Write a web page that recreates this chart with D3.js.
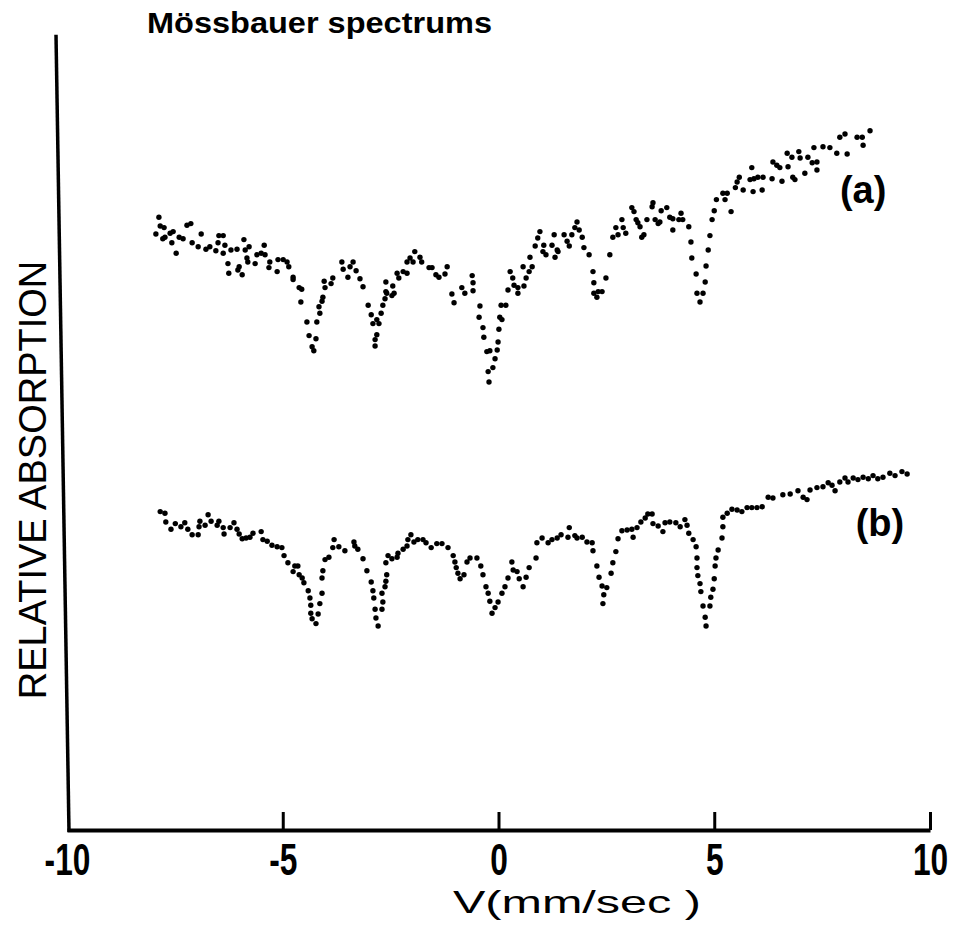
<!DOCTYPE html>
<html>
<head>
<meta charset="utf-8">
<script src="https://cdn.jsdelivr.net/npm/d3@7"></script>
<style>
    body { margin: 0; background: white; }
</style>
</head>
<body>
<script>

// Spectrum (a): [velocity mm/s, relative absorption]
const spectrumA = [
    [-7.94,74.5],[-7.87,76.6],[-7.84,75.5],[-7.78,73.9],[-7.75,75.3],[-7.73,74.1],[-7.61,74.6],[-7.57,73.4],
    [-7.54,74.8],[-7.47,72.1],[-7.40,74.1],[-7.31,73.9],[-7.22,75.6],[-7.13,75.8],[-7.10,73.4],[-6.96,72.9],
    [-6.89,74.5],[-6.78,72.6],[-6.69,72.9],[-6.55,72.4],[-6.50,73.4],[-6.48,74.3],[-6.38,74.3],[-6.38,72.1],
    [-6.34,73.1],[-6.27,70.8],[-6.25,69.6],[-6.20,72.5],[-6.06,72.6],[-6.04,70.0],[-6.01,70.4],[-5.94,69.4],
    [-5.90,73.8],[-5.87,72.5],[-5.83,71.5],[-5.81,71.0],[-5.78,72.9],[-5.64,70.8],[-5.60,71.9],[-5.50,72.1],
    [-5.43,73.1],[-5.41,71.9],[-5.32,70.3],[-5.30,71.0],[-5.13,69.8],[-5.11,71.3],[-4.99,71.3],[-4.90,71.0],
    [-4.86,70.4],[-4.76,69.1],[-4.76,68.8],[-4.62,67.8],[-4.58,66.0],[-4.56,67.6],[-4.44,63.5],[-4.39,61.8],
    [-4.32,60.4],[-4.28,59.9],[-4.23,61.4],[-4.21,63.5],[-4.16,65.4],[-4.14,64.6],[-4.09,66.1],[-4.07,66.6],
    [-4.04,68.6],[-4.02,67.8],[-3.88,68.3],[-3.84,69.0],[-3.63,71.0],[-3.60,70.1],[-3.49,69.1],[-3.44,70.4],
    [-3.37,71.0],[-3.30,69.9],[-3.21,68.9],[-3.14,67.9],[-3.02,65.6],[-2.95,64.4],[-2.91,63.3],[-2.86,61.3],
    [-2.86,60.5],[-2.82,63.8],[-2.82,61.9],[-2.77,63.3],[-2.72,64.6],[-2.68,65.6],[-2.63,66.4],[-2.61,68.5],
    [-2.61,67.3],[-2.59,67.1],[-2.47,66.8],[-2.45,68.0],[-2.42,67.1],[-2.35,69.6],[-2.31,69.0],[-2.21,69.8],
    [-2.12,69.6],[-2.12,71.0],[-2.05,71.5],[-1.98,71.0],[-1.94,72.3],[-1.82,71.6],[-1.78,71.0],[-1.61,70.3],
    [-1.54,70.3],[-1.45,69.4],[-1.38,69.1],[-1.24,69.5],[-1.19,70.4],[-1.08,67.0],[-1.03,65.9],[-0.85,67.8],
    [-0.78,67.1],[-0.61,69.3],[-0.59,68.4],[-0.59,67.4],[-0.45,64.1],[-0.43,65.5],[-0.36,62.8],[-0.34,61.6],
    [-0.27,59.8],[-0.24,57.3],[-0.22,56.0],[-0.20,59.9],[-0.13,57.8],[-0.08,58.9],[-0.03,60.0],[-0.01,61.0],
    [0.01,62.6],[0.03,64.1],[0.06,65.6],[0.08,63.8],[0.17,65.6],[0.22,67.5],[0.27,69.8],[0.33,69.0],
    [0.36,68.1],[0.45,67.8],[0.45,67.1],[0.57,70.4],[0.59,68.0],[0.64,69.0],[0.71,69.8],[0.73,71.6],
    [0.78,70.4],[0.85,73.0],[0.91,74.0],[0.96,74.8],[1.03,72.3],[1.05,73.1],[1.10,71.9],[1.24,73.1],
    [1.29,74.4],[1.31,71.6],[1.36,72.5],[1.38,72.3],[1.52,74.4],[1.59,73.6],[1.64,73.0],[1.70,74.4],
    [1.77,75.3],[1.82,76.0],[1.87,75.0],[1.94,74.1],[1.98,72.8],[2.10,71.9],[2.19,69.8],[2.21,68.4],
    [2.21,67.1],[2.28,66.6],[2.31,67.3],[2.40,67.3],[2.49,69.0],[2.58,71.9],[2.65,74.1],[2.72,75.3],
    [2.77,74.4],[2.86,76.3],[2.89,75.3],[2.95,74.6],[3.09,77.8],[3.14,77.3],[3.19,76.3],[3.23,75.9],
    [3.28,75.4],[3.32,74.1],[3.37,74.4],[3.44,76.3],[3.56,77.9],[3.58,78.4],[3.63,76.3],[3.70,75.8],
    [3.74,76.0],[3.77,77.4],[3.90,77.8],[3.97,76.6],[4.04,76.4],[4.04,75.0],[4.18,76.3],[4.23,77.1],
    [4.27,76.3],[4.41,75.4],[4.46,73.5],[4.48,71.5],[4.58,69.5],[4.60,67.1],[4.67,66.0],[4.74,67.1],
    [4.79,68.5],[4.81,70.5],[4.86,72.5],[4.90,74.3],[4.95,76.3],[5.00,77.4],[5.05,78.8],[5.20,79.6],
    [5.25,78.8],[5.30,79.6],[5.39,77.3],[5.49,80.3],[5.53,81.0],[5.58,81.6],[5.67,80.0],[5.83,81.3],
    [5.87,82.8],[5.90,79.8],[5.92,81.4],[6.01,81.6],[6.11,80.0],[6.13,81.6],[6.34,81.4],[6.36,83.5],
    [6.45,83.1],[6.52,82.8],[6.57,81.1],[6.69,84.6],[6.71,82.9],[6.80,84.1],[6.82,81.6],[6.87,81.3],
    [6.96,84.8],[6.99,84.0],[7.10,82.1],[7.17,84.1],[7.27,83.4],[7.31,85.3],[7.38,83.5],[7.38,82.5],
    [7.52,85.4],[7.68,85.3],[7.84,84.6],[7.91,86.6],[8.03,87.0],[8.08,84.5],[8.31,86.6],[8.43,86.6],
    [8.45,85.6],[8.61,87.4]
];

// Spectrum (b): [velocity mm/s, relative absorption]
const spectrumB = [
    [-7.84,39.8],[-7.73,39.6],[-7.71,38.5],[-7.59,37.6],[-7.49,38.3],[-7.36,37.9],[-7.27,38.4],[-7.20,37.6],
    [-7.10,36.9],[-6.96,36.9],[-6.94,37.9],[-6.92,38.6],[-6.80,38.1],[-6.73,39.4],[-6.66,38.6],[-6.52,38.1],
    [-6.48,38.6],[-6.38,37.8],[-6.36,37.0],[-6.22,37.8],[-6.13,38.4],[-6.06,37.6],[-6.01,37.0],[-5.94,36.4],
    [-5.85,36.5],[-5.76,36.6],[-5.69,37.1],[-5.50,37.3],[-5.46,36.3],[-5.36,36.1],[-5.25,35.6],[-5.13,35.4],
    [-5.02,35.3],[-4.97,34.3],[-4.88,33.4],[-4.76,32.3],[-4.72,33.0],[-4.65,33.0],[-4.62,31.9],[-4.55,31.5],
    [-4.51,30.9],[-4.41,29.9],[-4.37,29.0],[-4.35,28.1],[-4.35,27.1],[-4.32,26.4],[-4.23,25.8],[-4.18,27.0],
    [-4.14,28.3],[-4.09,29.6],[-4.09,31.5],[-4.07,32.4],[-4.02,33.8],[-3.93,34.1],[-3.84,35.3],[-3.81,36.3],
    [-3.70,35.4],[-3.56,34.9],[-3.35,36.0],[-3.33,35.5],[-3.26,35.1],[-3.14,33.9],[-3.05,32.4],[-2.95,31.0],
    [-2.91,29.9],[-2.89,29.0],[-2.86,27.6],[-2.84,26.5],[-2.79,25.5],[-2.70,27.6],[-2.68,28.5],[-2.70,29.6],
    [-2.63,30.4],[-2.61,31.1],[-2.59,31.9],[-2.61,33.4],[-2.56,34.3],[-2.47,33.9],[-2.35,34.1],[-2.33,34.6],
    [-2.21,35.1],[-2.12,35.5],[-2.10,36.3],[-2.03,36.9],[-1.96,36.0],[-1.87,36.3],[-1.75,36.3],[-1.68,35.9],
    [-1.56,35.3],[-1.43,35.8],[-1.31,35.8],[-1.17,35.3],[-1.05,34.3],[-1.01,33.5],[-0.98,32.8],[-0.94,32.1],
    [-0.89,31.4],[-0.80,31.9],[-0.73,33.5],[-0.66,34.0],[-0.50,34.0],[-0.41,33.0],[-0.36,31.9],[-0.29,30.4],
    [-0.24,29.6],[-0.20,28.6],[-0.15,27.1],[-0.08,27.8],[-0.01,28.5],[0.08,29.6],[0.15,30.4],[0.22,31.5],
    [0.31,33.5],[0.34,32.5],[0.43,32.3],[0.48,31.4],[0.57,30.4],[0.64,31.6],[0.71,32.8],[0.87,34.0],
    [0.89,35.9],[1.01,36.5],[1.15,35.9],[1.24,36.3],[1.36,36.5],[1.45,36.9],[1.61,36.6],[1.64,37.8],
    [1.77,36.8],[1.82,36.5],[1.94,36.6],[2.05,36.0],[2.17,35.9],[2.19,34.9],[2.28,33.0],[2.33,31.6],
    [2.40,30.5],[2.44,29.4],[2.42,28.3],[2.51,30.3],[2.61,32.1],[2.65,33.4],[2.72,34.8],[2.77,36.4],
    [2.86,37.4],[2.98,37.5],[3.09,37.6],[3.12,36.6],[3.21,37.8],[3.30,38.5],[3.40,39.0],[3.46,39.5],
    [3.56,39.5],[3.58,38.3],[3.70,38.0],[3.81,37.3],[3.86,38.4],[3.97,38.5],[4.11,38.4],[4.21,37.9],
    [4.32,38.8],[4.37,38.1],[4.41,37.1],[4.51,36.3],[4.58,35.4],[4.60,34.0],[4.60,32.8],[4.62,31.8],
    [4.67,30.8],[4.69,29.8],[4.74,28.0],[4.79,26.6],[4.81,25.5],[4.90,28.0],[4.92,29.1],[4.97,30.1],
    [5.00,31.4],[5.02,33.0],[5.04,34.0],[5.09,35.0],[5.18,36.5],[5.20,37.9],[5.20,39.1],[5.30,39.6],
    [5.41,40.1],[5.53,40.0],[5.64,39.8],[5.76,40.3],[5.87,40.3],[5.99,40.3],[6.11,40.4],[6.25,41.6],
    [6.36,41.5],[6.59,41.9],[6.76,42.0],[6.94,42.4],[7.06,41.6],[7.15,41.3],[7.22,42.5],[7.38,42.8],
    [7.52,42.9],[7.64,43.4],[7.73,43.1],[7.80,42.4],[7.91,43.5],[8.03,44.0],[8.10,43.5],[8.22,44.0],
    [8.33,43.8],[8.45,44.1],[8.57,43.9],[8.68,44.3],[8.79,43.9],[8.91,44.1],[9.07,44.6],[9.19,44.3],
    [9.35,44.8],[9.47,44.5]
];

const xTicks = [-10, -5, 0, 5, 10];
const titleText = "Mössbauer spectrums";
const xLabel = "V(mm/sec )";
const yLabel = "RELATIVE ABSORPTION";
const seriesLabels = [
    {text: "(a)", v: 8.45, r: 78.4},
    {text: "(b)", v: 8.84, r: 36.8}
];

// Create SVG
const width = 957, height = 930;
const svg = d3.select('body')
    .append('svg')
    .attr('width', width)
    .attr('height', height);

// Scales
const x = d3.scaleLinear().domain([-10, 10]).range([67, 930]);
const y = d3.scaleLinear().domain([0, 100]).range([830, 30]);

const sans = "'Liberation Sans', Arial, sans-serif";

// X axis with ticks pointing up
const xAxis = svg.append('g')
    .attr('transform', `translate(0,${y(0)})`)
    .call(d3.axisBottom(x)
        .tickValues(xTicks)
        .tickSizeInner(-18)
        .tickSizeOuter(0)
        .tickPadding(45)
        .tickFormat(d3.format('d')));

xAxis.select('.domain')
    .attr('stroke', 'black')
    .attr('stroke-width', 4);

xAxis.selectAll('.tick line')
    .attr('stroke', 'black')
    .attr('stroke-width', 3)
    .filter(d => d === -10)
    .remove();

// Condensed tick labels, squeezed horizontally
xAxis.selectAll('.tick text')
    .attr('fill', 'black')
    .attr('font-family', sans)
    .attr('font-weight', 'bold')
    .attr('font-size', 44)
    .attr('dy', 0)
    .attr('transform', 'scale(0.72,1)')
    .text(d => d < 0 ? '-' + Math.abs(d) : d);

// Y axis (no ticks), slightly skewed like the scan
svg.append('line')
    .attr('x1', x(-10) + 2)
    .attr('y1', y(0) + 2)
    .attr('x2', x(-10) - 11)
    .attr('y2', y(99.4))
    .attr('stroke', 'black')
    .attr('stroke-width', 3.5);

// Data points
const series = [spectrumA, spectrumB];
svg.append('g')
    .selectAll('g')
    .data(series)
    .join('g')
    .selectAll('circle')
    .data(d => d)
    .join('circle')
    .attr('cx', d => x(d[0]))
    .attr('cy', d => y(d[1]))
    .attr('r', 2.7)
    .attr('fill', 'black');

// Series labels
svg.selectAll('.series-label')
    .data(seriesLabels)
    .join('text')
    .attr('class', 'series-label')
    .attr('x', d => x(d.v))
    .attr('y', d => y(d.r))
    .attr('text-anchor', 'middle')
    .attr('font-family', sans)
    .attr('font-weight', 'bold')
    .attr('font-size', 38)
    .text(d => d.text);

// Title
svg.append('text')
    .attr('x', 147)
    .attr('y', 33)
    .attr('font-family', sans)
    .attr('font-weight', 'bold')
    .attr('font-size', 30)
    .attr('textLength', 345)
    .attr('lengthAdjust', 'spacingAndGlyphs')
    .text(titleText);

// X label
svg.append('text')
    .attr('x', 577)
    .attr('y', 913)
    .attr('text-anchor', 'middle')
    .attr('font-family', sans)
    .attr('font-size', 32)
    .attr('textLength', 248)
    .attr('lengthAdjust', 'spacingAndGlyphs')
    .text(xLabel);

// Y label
svg.append('text')
    .attr('transform', `translate(46,480) rotate(-90)`)
    .attr('text-anchor', 'middle')
    .attr('font-family', sans)
    .attr('font-size', 38)
    .text(yLabel);

</script>
</body>
</html>
